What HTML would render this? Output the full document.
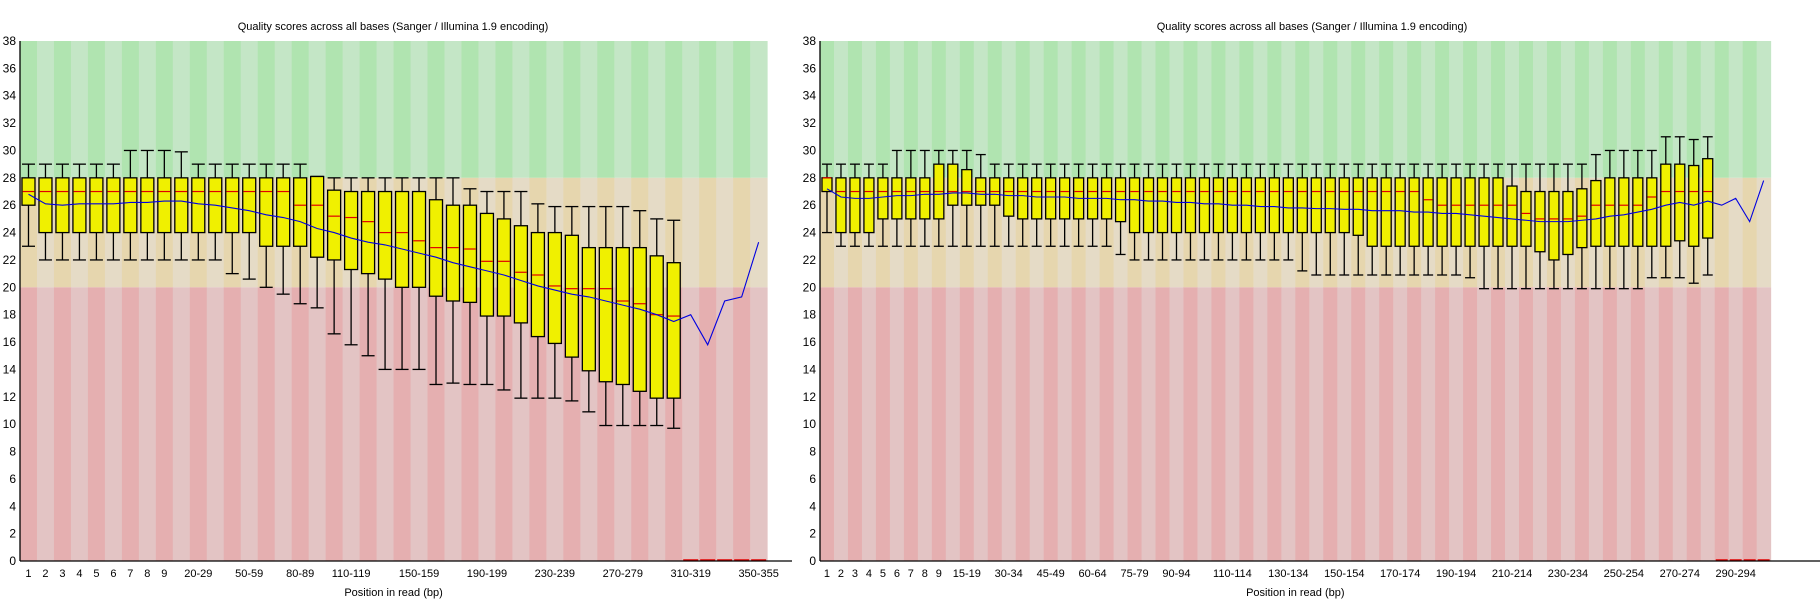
<!DOCTYPE html>
<html><head><meta charset="utf-8"><style>
html,body{margin:0;padding:0;background:#fff;}
svg{display:block;font-family:"Liberation Sans","DejaVu Sans",sans-serif;}
</style></head><body>
<svg id="svg" width="1820" height="601" viewBox="0 0 1820 601"></svg>
<script>
const leftLow=[23,22,22,22,22,22,22,22,22,22,22,22,21,20.6,20,19.5,18.8,18.5,16.6,15.8,15,14,14,14,12.9,13,12.9,12.9,12.5,11.9,11.9,11.9,11.7,10.9,9.9,9.9,9.9,9.9,9.7];
const leftQ1=[26,24,24,24,24,24,24,24,24,24,24,24,24,24,23,23,23,22.2,22,21.3,21,20.6,20,20,19.35,19,18.9,17.9,17.9,17.4,16.4,15.9,14.9,13.9,13.1,12.9,12.4,11.9,11.9];
const leftMed=[27,27,27,27,27,27,27,27,27,27,27,27,27,27,27,27,26,26,25.2,25.1,24.8,24,24,23.4,22.9,22.9,22.8,21.9,21.9,21.1,20.9,20.1,19.9,19.9,19.9,19.0,18.8,18.0,17.9];
const leftQ3=[28,28,28,28,28,28,28,28,28,28,28,28,28,28,28,28,28,28.1,27.1,27,27,27,27,27,26.4,26,26,25.4,25,24.5,24,24,23.8,22.9,22.9,22.9,22.9,22.3,21.8];
const leftHigh=[29,29,29,29,29,29,30,30,30,29.9,29,29,29,29,29,29,29,28.1,28,28,28,28,28,28,28,28,27.2,27,27,27,26.1,25.9,25.9,25.9,25.9,25.9,25.6,25,24.9];
const leftMean=[26.8,26.1,26.0,26.1,26.1,26.1,26.2,26.2,26.3,26.3,26.1,26.0,25.8,25.6,25.3,25.1,24.8,24.3,24.0,23.6,23.3,23.1,22.8,22.5,22.2,21.8,21.5,21.2,20.9,20.5,20.1,19.8,19.5,19.3,19.0,18.7,18.4,18.0,17.5,18.0,15.8,19.0,19.3,23.3];
const leftTickLabels={0:"1",1:"2",2:"3",3:"4",4:"5",5:"6",6:"7",7:"8",8:"9",10:"20-29",13:"50-59",16:"80-89",19:"110-119",23:"150-159",27:"190-199",31:"230-239",35:"270-279",39:"310-319",43:"350-355"};

const rightLow=[24,23,23,23,23,23,23,23,23,23,23,23,23,23,23,23,23,23,23,23,23,22.4,22,22,22,22,22,22,22,22,22,22,22,22,21.2,20.9,20.9,20.9,20.9,20.9,20.9,20.9,20.9,20.9,20.9,20.9,20.7,19.9,19.9,19.9,19.9,19.9,19.9,19.9,19.9,19.9,19.9,19.9,19.9,20.7,20.7,20.7,20.3,20.9];
const rightQ1=[27,24,24,24,25,25,25,25,25,26,26,26,26,25.2,25,25,25,25,25,25,25,24.8,24,24,24,24,24,24,24,24,24,24,24,24,24,24,24,24,23.8,23,23,23,23,23,23,23,23,23,23,23,23,22.6,22.0,22.4,22.9,23,23,23,23,23,23,23.4,23,23.6];
const rightMed=[28,27,27,27,27,27,27,27,27,27,27,27,27,27,27,27,27,27,27,27,27,27,27,27,27,27,27,27,27,27,27,27,27,27,27,27,27,27,27,27,27,27,27,26.4,26,26,26,26,26,26,25.4,25,25,25,25.2,26,26,26,26,26.6,27,27,27,27];
const rightQ3=[28,28,28,28,28,28,28,28,29,29,28.6,28,28,28,28,28,28,28,28,28,28,28,28,28,28,28,28,28,28,28,28,28,28,28,28,28,28,28,28,28,28,28,28,28,28,28,28,28,28,27.4,27,27,27,27,27.2,27.8,28,28,28,28,29,29,28.9,29.4];
const rightHigh=[29,29,29,29,29,30,30,30,30,30,30,29.7,29,29,29,29,29,29,29,29,29,29,29,29,29,29,29,29,29,29,29,29,29,29,29,29,29,29,29,29,29,29,29,29,29,29,29,29,29,29,29,29,29,29,29,29.7,30,30,30,30,31,31,30.8,31];
const rightMean=[27.2,26.6,26.5,26.5,26.6,26.7,26.7,26.8,26.8,26.9,26.9,26.8,26.8,26.7,26.7,26.6,26.6,26.6,26.5,26.5,26.5,26.4,26.4,26.3,26.3,26.2,26.2,26.1,26.1,26.0,26.0,25.9,25.9,25.8,25.8,25.75,25.75,25.7,25.7,25.6,25.6,25.6,25.5,25.5,25.4,25.4,25.3,25.2,25.1,25.0,24.9,24.8,24.8,24.8,24.9,25.0,25.2,25.3,25.5,25.7,26.0,26.2,26.0,26.3,26.0,26.5,24.8,27.8];
const rightTickLabels={0:"1",1:"2",2:"3",3:"4",4:"5",5:"6",6:"7",7:"8",8:"9",10:"15-19",13:"30-34",16:"45-49",19:"60-64",22:"75-79",25:"90-94",29:"110-114",33:"130-134",37:"150-154",41:"170-174",45:"190-194",49:"210-214",53:"230-234",57:"250-254",61:"270-274",65:"290-294"};
const yTicks=[0,2,4,6,8,10,12,14,16,18,20,22,24,26,28,30,32,34,36,38];

const NS="http://www.w3.org/2000/svg";
const svg=document.getElementById('svg');
function mk(tag,attrs,parent){const e=document.createElementNS(NS,tag);for(const k in attrs)e.setAttribute(k,attrs[k]);(parent||svg).appendChild(e);return e;}

function drawChart(prefix,x0,x1,colW,boxW,low,q1,med,q3,high,mean,tickLabels,titleX){
  const yTop=41,yBot=561;
  const y=v=>yBot-(v/38)*(yBot-yTop);
  const n=mean.length;
  const xc=i=>x0+colW*i+colW/2;
  const g=mk('g',{});
  
  
  // zones
  const zones=[[28,38,'#b0e4b0','#c4e6c6'],[20,28,'#e6d6ae','#e5dbc6'],[0,20,'#e5afb0','#e3c4c4']];
  for(let i=0;i<n;i++){
    zones.forEach(z=>{
      const r=mk('rect',{x:x0+colW*i,y:y(z[1]),width:colW+0.5,height:y(z[0])-y(z[1]),fill:i%2===0?z[2]:z[3]},g);
      
      
    });
  }
  // boxes
  for(let i=0;i<low.length;i++){
    const cx=xc(i),hw=boxW/2;
    const bg=mk('g',{},g);
    
    
    mk('line',{x1:cx,x2:cx,y1:y(high[i]),y2:y(low[i]),stroke:'#000','stroke-width':1.3},bg);
    mk('line',{x1:cx-hw,x2:cx+hw,y1:y(high[i]),y2:y(high[i]),stroke:'#000','stroke-width':1.3},bg);
    mk('line',{x1:cx-hw,x2:cx+hw,y1:y(low[i]),y2:y(low[i]),stroke:'#000','stroke-width':1.3},bg);
    mk('rect',{x:cx-hw,y:y(q3[i]),width:boxW,height:y(q1[i])-y(q3[i]),fill:'#f0f000',stroke:'#000','stroke-width':1.3},bg);
    mk('line',{x1:cx-hw+0.7,x2:cx+hw-0.7,y1:y(med[i]),y2:y(med[i]),stroke:'#e00000','stroke-width':1.2},bg);
  }
  // red baseline markers for empty columns
  for(let i=low.length;i<n;i++){
    const r=mk('line',{x1:x0+colW*i+1,x2:x0+colW*(i+1)-1,y1:yBot-1,y2:yBot-1,stroke:'#e00000','stroke-width':1.5},g);
    
    
  }
  // mean line
  const pts=mean.map((v,i)=>xc(i)+','+y(v)).join(' ');
  const pl=mk('polyline',{points:pts,fill:'none',stroke:'#0000e0','stroke-width':1.1},g);
  
  
  // axes
  const ya=mk('line',{x1:x0,x2:x0,y1:yTop,y2:yBot,stroke:'#000','stroke-width':1.3},g);
  
  
  const xa=mk('line',{x1:x0,x2:x1,y1:yBot,y2:yBot,stroke:'#000','stroke-width':1.3},g);
  
  
  yTicks.forEach(v=>{
    const t=mk('text',{x:x0-4,y:y(v)+4,'text-anchor':'end','font-size':12,fill:'#000'},g);
    t.textContent=v;
    
    
  });
  for(const k in tickLabels){
    const t=mk('text',{x:xc(+k),y:577,'text-anchor':'middle','font-size':11,fill:'#000'},g);
    t.textContent=tickLabels[k];
    
    
  }
  const xt=mk('text',{x:(x0+x0+colW*n)/2,y:596,'text-anchor':'middle','font-size':11,fill:'#000'},g);
  xt.textContent='Position in read (bp)';
  
  
  const tt=mk('text',{x:titleX,y:30,'text-anchor':'middle','font-size':11,fill:'#000'},g);
  tt.textContent='Quality scores across all bases (Sanger / Illumina 1.9 encoding)';
  
  
}
drawChart('left',20,792,16.98,13,leftLow,leftQ1,leftMed,leftQ3,leftHigh,leftMean,leftTickLabels,393);
drawChart('right',820,1820,13.98,10,rightLow,rightQ1,rightMed,rightQ3,rightHigh,rightMean,rightTickLabels,1312);
</script>
</body></html>
